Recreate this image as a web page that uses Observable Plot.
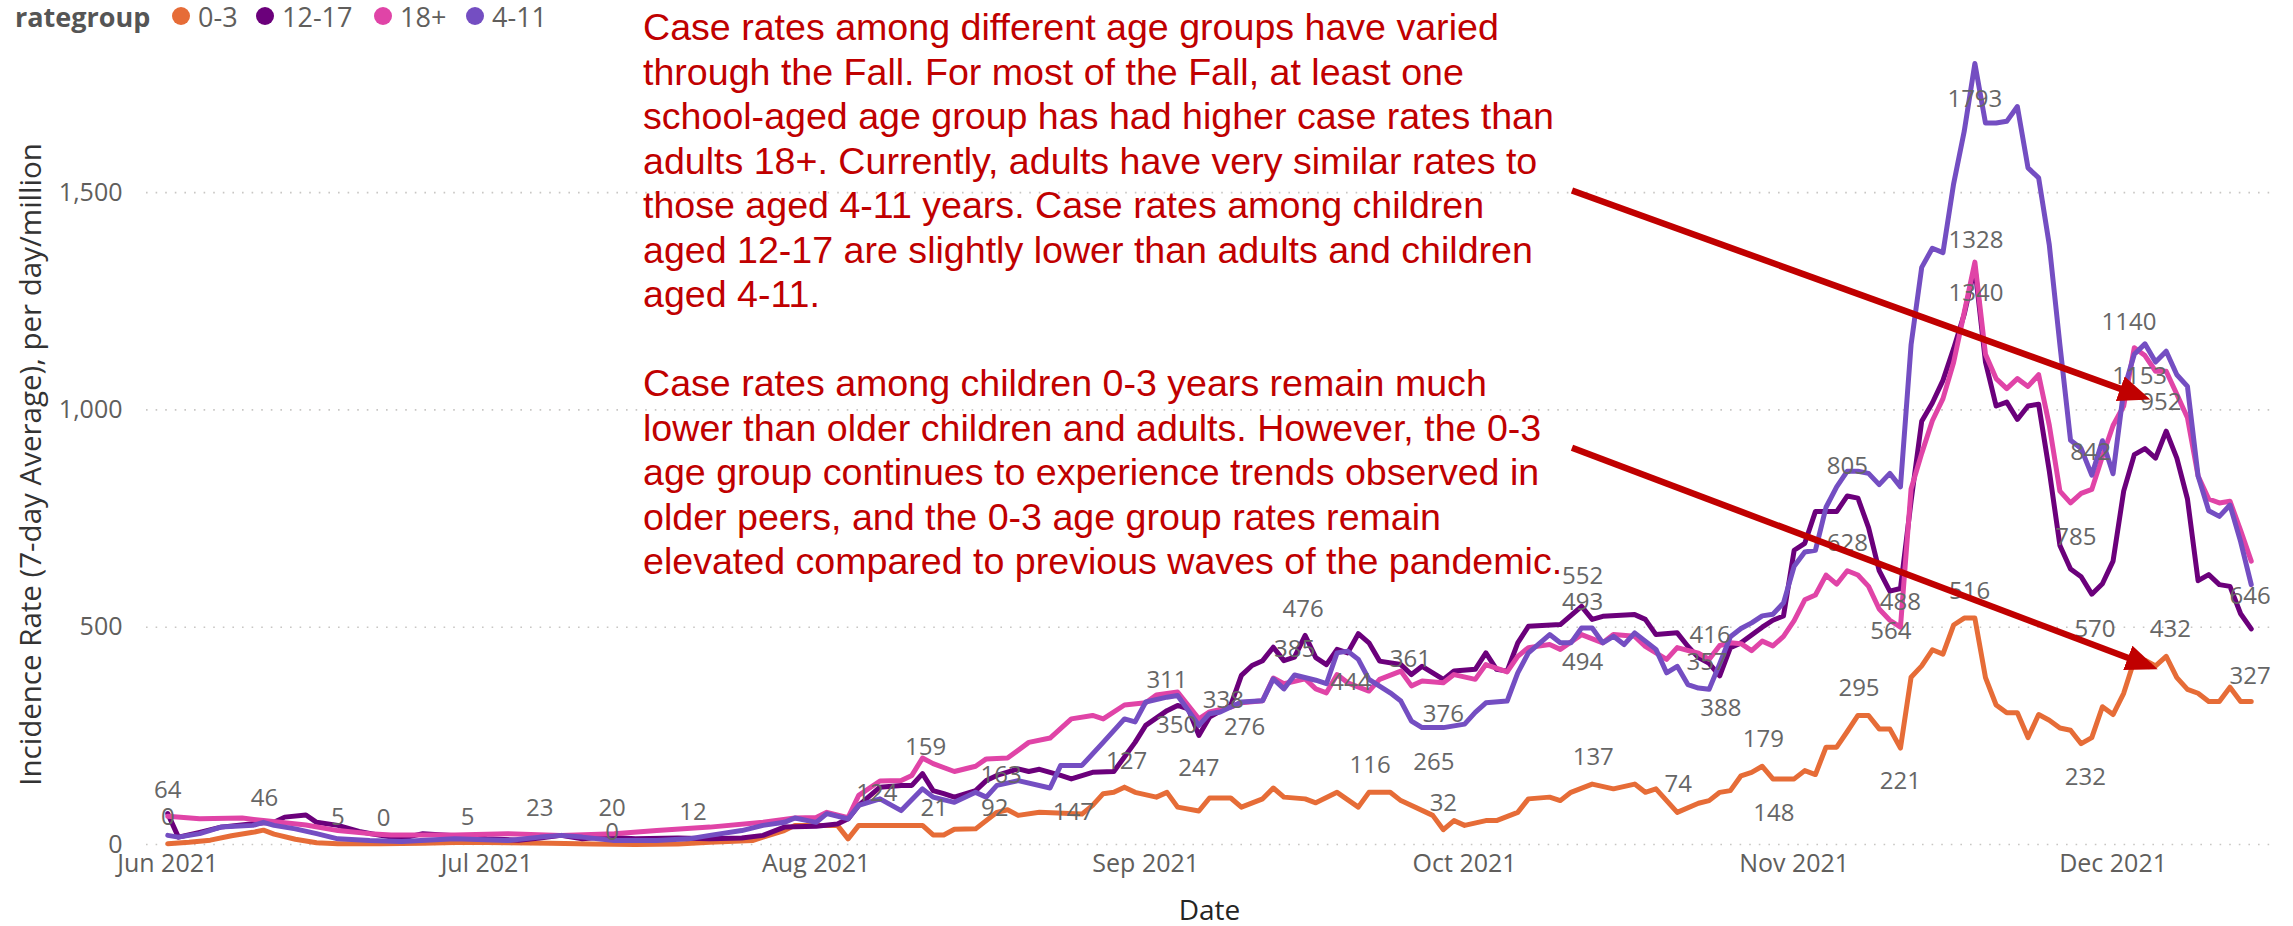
<!DOCTYPE html>
<html>
<head>
<meta charset="utf-8">
<script src="https://cdn.jsdelivr.net/npm/d3@7"></script>
<script src="https://cdn.jsdelivr.net/npm/@observablehq/plot@0.6"></script>
<style>
  html, body { margin: 0; padding: 0; background: #fff; }
  #wrap { position: relative; width: 2293px; height: 926px; overflow: hidden; font-family: "Segoe UI", "Open Sans", sans-serif; }
  #chart { position: absolute; left: 0; top: 0; }
  .lg { position: absolute; top: 16px; transform: translateY(-50%); white-space: nowrap; font-size: 27px; color: #605E5C; line-height: 1; }
  .lg.title { font-weight: 700; color: #555; font-size: 27px; }
  .dot { position: absolute; top: 16px; width: 18px; height: 18px; border-radius: 50%; transform: translate(-50%, -50%); }
  #note { position: absolute; left: 643px; top: 5px; font-family: "Liberation Sans", Arial, sans-serif; font-size: 37.6px; line-height: 44.5px; color: #C00000; white-space: nowrap; }
  #note div { height: 44.5px; }
</style>
</head>
<body>
<div id="wrap">
  <div id="chart"></div>
  <div id="legend"></div>
  <div id="note"></div>
</div>
<script>
// ---------- data ----------
const groups = ["0-3", "12-17", "18+", "4-11"];
const groupColors = ["#E66C37", "#6B007B", "#E044A7", "#744EC2"];

// [days after 1 Jun 2021, incidence rate per day per million]
const rate0to3 = [[0,2],[2,5],[4,10],[6,20],[8,28],[9,33],[10,24],[12,12],[14,4],[16,2],[20,2],[24,3],[28,5],[32,4],[36,3],[40,1],[44,0],[48,1],[51,5],[55,9],[56,17],[58,32],[59,44],[63,44],[64,13],[65,44],[71,44],[72,22],[73,22],[74,35],[76,36],[78,74],[79,80],[80,67],[82,74],[86,70],[87,90],[88,117],[89,120],[90,132],[91,120],[93,109],[94,120],[95,86],[97,77],[98,107],[100,107],[101,86],[103,105],[104,130],[105,109],[107,105],[108,96],[110,120],[112,86],[113,120],[115,120],[116,101],[119,67],[120,34],[121,55],[122,44],[124,55],[125,55],[127,74],[128,105],[130,109],[131,101],[132,120],[134,139],[136,128],[138,139],[139,120],[140,128],[142,74],[144,95],[145,101],[146,120],[147,124],[148,158],[149,166],[150,180],[151,151],[153,151],[154,170],[155,161],[156,224],[157,224],[158,260],[159,297],[160,297],[161,266],[162,266],[163,222],[164,385],[165,411],[166,448],[167,438],[168,505],[169,521],[170,521],[171,384],[172,321],[173,303],[174,303],[175,246],[176,299],[177,286],[178,268],[179,263],[180,232],[181,246],[182,317],[183,299],[184,348],[185,424],[186,424],[187,411],[188,433],[189,384],[190,357],[191,348],[192,329],[193,329],[194,362],[195,329],[196,329]];
const rate12to17 = [[0,71],[1,17],[3,28],[5,40],[8,48],[10,51],[11,63],[13,68],[14,51],[16,44],[18,30],[20,21],[22,14],[24,25],[27,20],[30,13],[33,10],[35,15],[37,21],[39,13],[41,17],[44,13],[48,15],[51,13],[54,15],[56,21],[58,40],[61,42],[63,47],[64,59],[65,90],[67,132],[69,136],[70,136],[71,163],[72,124],[73,117],[74,109],[76,124],[77,147],[78,159],[80,174],[81,168],[82,173],[84,159],[85,151],[87,166],[89,168],[91,235],[92,274],[94,308],[95,320],[96,312],[97,251],[98,293],[100,320],[101,389],[102,412],[103,423],[104,454],[105,423],[106,431],[107,481],[108,430],[109,414],[110,449],[111,441],[112,485],[113,464],[114,422],[116,414],[117,391],[118,410],[120,380],[121,399],[123,403],[124,441],[125,403],[126,399],[127,464],[128,502],[131,506],[133,548],[134,518],[135,525],[138,529],[139,518],[140,483],[142,487],[143,456],[144,430],[145,417],[146,388],[147,453],[148,464],[150,500],[151,516],[152,526],[153,677],[154,693],[155,766],[157,766],[158,802],[159,797],[160,729],[161,630],[162,583],[163,589],[164,790],[165,974],[166,1016],[167,1068],[168,1141],[169,1220],[170,1328],[171,1110],[172,1009],[173,1018],[174,978],[175,1009],[176,1013],[177,860],[178,688],[179,634],[180,616],[181,576],[182,600],[183,652],[184,813],[185,897],[186,911],[187,889],[188,951],[189,889],[190,795],[191,607],[192,621],[193,598],[194,594],[195,531],[196,496]];
const rate18plus = [[0,65],[3,59],[7,61],[9,55],[13,45],[16,32],[19,25],[21,22],[27,22],[32,25],[37,21],[42,25],[46,32],[51,40],[56,51],[59,61],[61,62],[62,74],[64,62],[65,113],[67,146],[69,147],[70,159],[71,199],[72,186],[74,168],[76,180],[77,197],[79,199],[81,235],[83,245],[85,289],[87,297],[88,289],[90,321],[92,326],[93,344],[95,351],[97,289],[98,305],[100,316],[101,326],[103,331],[104,383],[105,370],[107,381],[108,358],[109,349],[110,391],[111,372],[113,353],[114,380],[116,399],[117,365],[118,376],[120,372],[121,391],[123,380],[124,414],[126,397],[127,433],[128,453],[130,460],[131,449],[133,483],[135,464],[136,483],[138,479],[139,456],[141,426],[142,453],[144,440],[145,426],[146,458],[147,464],[148,462],[149,446],[150,468],[151,457],[152,479],[153,515],[154,563],[155,574],[156,620],[157,599],[158,630],[159,620],[160,594],[161,542],[162,516],[163,500],[164,818],[165,900],[166,975],[167,1026],[168,1109],[169,1224],[170,1340],[171,1128],[172,1072],[173,1049],[174,1072],[175,1054],[176,1081],[177,965],[178,813],[179,786],[180,808],[181,817],[182,893],[183,964],[184,1009],[185,1143],[186,1125],[187,1089],[188,1089],[189,1036],[190,982],[191,848],[192,795],[193,786],[194,790],[195,723],[196,652]];
const rate4to11 = [[0,21],[1,17],[3,25],[5,40],[8,44],[9,51],[10,44],[12,36],[14,25],[16,13],[19,9],[22,7],[27,13],[32,9],[35,17],[37,21],[39,17],[42,9],[46,9],[49,13],[51,21],[54,32],[56,44],[58,51],[59,61],[61,51],[62,71],[64,59],[65,90],[67,105],[69,78],[71,128],[72,109],[74,97],[76,120],[77,109],[78,136],[80,147],[83,130],[84,182],[86,182],[88,235],[90,289],[91,282],[92,328],[94,339],[95,343],[97,274],[98,301],[99,305],[101,328],[103,331],[104,381],[105,358],[106,390],[108,378],[109,370],[110,441],[111,445],[112,426],[113,380],[115,349],[116,330],[117,284],[118,269],[120,269],[122,277],[123,304],[124,326],[126,330],[127,395],[128,441],[130,483],[131,464],[132,464],[133,498],[134,498],[135,464],[136,479],[137,460],[138,487],[140,449],[141,395],[142,410],[143,368],[144,360],[145,357],[146,416],[147,478],[148,497],[149,510],[150,526],[151,530],[152,556],[153,640],[154,673],[155,677],[156,776],[157,823],[158,859],[159,859],[160,854],[161,828],[162,854],[163,823],[164,1150],[165,1328],[166,1372],[167,1362],[168,1520],[169,1641],[170,1797],[171,1660],[172,1660],[173,1664],[174,1698],[175,1557],[176,1534],[177,1380],[178,1150],[179,930],[180,911],[181,850],[182,929],[183,853],[184,1045],[185,1128],[186,1152],[187,1110],[188,1135],[189,1081],[190,1054],[191,848],[192,768],[193,755],[194,781],[195,697],[196,598]];

// data labels as shown in the chart: [text, days after 1 Jun, value level where it sits]
const dataLabels = [["64",0,124],["0",0,62],["46",9.1,106],["5",16,62],["0",20.3,60],["5",28.2,62],["23",35,83],["20",41.8,83],["0",41.8,28],["12",49.4,74],["124",66.7,117],["159",71.3,223],["21",72.1,83],["163",78.4,159],["92",77.8,83],["147",85.2,74],["127",90.2,191],["311",94,377],["350",94.9,274],["338",99.3,331],["276",101.3,269],["247",97,175],["476",106.8,541],["385",106,449],["444",111.3,373],["116",113.1,182],["361",116.9,426],["376",120,299],["265",119.1,189],["32",120,94],["552",133.1,617],["493",133.1,557],["494",133.1,419],["137",134.1,200],["416",145.1,481],["357",144.8,419],["388",146.1,313],["74",142.1,138],["179",150.1,242],["148",151.1,71],["805",158,870],["628",158,692],["295",159.1,359],["488",163,557],["564",162.1,490],["221",163,145],["516",169.5,582],["1328",170.1,1390],["1340",170.1,1268],["1793",170,1714],["842",180.9,902],["785",179.5,706],["570",181.3,495],["232",180.4,154],["1140",184.5,1201],["1153",185.5,1077],["952",187.5,1017],["432",188.4,495],["646",195.9,571],["327",195.9,387]];

// annotation arrows: [from day, from value, to day, to value]
const arrowsData = [[132.1,1505,185.8,1030],[132.1,913,186.5,410]];

const yTicks = [0, 500, 1000, 1500];
const monthTicks = ["2021-06-01","2021-07-01","2021-08-01","2021-09-01","2021-10-01","2021-11-01","2021-12-01"];
const yTitle = "Incidence Rate (7-day Average), per day/million";
const xTitle = "Date";
const legendTitle = "rategroup";
const noteLines = [
  "Case rates among different age groups have varied",
  "through the Fall. For most of the Fall, at least one",
  "school-aged age group has had higher case rates than",
  "adults 18+. Currently, adults have very similar rates to",
  "those aged 4-11 years. Case rates among children",
  "aged 12-17 are slightly lower than adults and children",
  "aged 4-11.",
  "",
  "Case rates among children 0-3 years remain much",
  "lower than older children and adults. However, the 0-3",
  "age group continues to experience trends observed in",
  "older peers, and the 0-3 age group rates remain",
  "elevated compared to previous waves of the pandemic."
];

// ---------- build ----------
const t0 = Date.UTC(2021, 5, 1);
const toDate = d => new Date(t0 + d * 864e5);
const seriesList = [rate0to3, rate12to17, rate18plus, rate4to11];
const rows = seriesList.flatMap((arr, i) => arr.map(([d, v]) => ({group: groups[i], date: toDate(d), value: v})));
const labelRows = dataLabels.map(([t, d, v]) => ({text: t, date: toDate(d), value: v}));
const arrowRows = arrowsData.map(([a, b, c, e]) => ({x1: toDate(a), y1: b, x2: toDate(c), y2: e}));
const tickDates = monthTicks.map(s => new Date(s + "T00:00:00Z"));

const font = '"Segoe UI", "Open Sans", sans-serif';

const chart = Plot.plot({
  width: 2293,
  height: 926,
  marginLeft: 146,
  marginRight: 21,
  marginTop: 40,
  marginBottom: 82,
  style: {fontFamily: font, fontSize: "25px", color: "#605E5C", background: "transparent", overflow: "visible"},
  x: {type: "utc", domain: [toDate(-2), toDate(198)]},
  y: {domain: [0, 1850]},
  color: {domain: groups, range: groupColors},
  marks: [
    Plot.gridY(yTicks, {stroke: "#C8C6C4", strokeOpacity: 1, strokeWidth: 1.6, strokeDasharray: "1.6,8"}),
    Plot.axisY(yTicks, {tickSize: 0, tickPadding: 24, tickFormat: d3.format(","), label: null, fontSize: 25, fill: "#605E5C"}),
    Plot.axisX(tickDates, {tickSize: 0, tickPadding: 10, tickFormat: d3.utcFormat("%b %Y"), label: null, fontSize: 25, fill: "#605E5C"}),
    Plot.line(rows, {x: "date", y: "value", z: "group", stroke: "group", strokeWidth: 5, strokeLinejoin: "round", strokeLinecap: "round"}),
    Plot.text(labelRows, {x: "date", y: "value", text: "text", fill: "#666", fontSize: 24}),
    Plot.link(arrowRows, {x1: "x1", y1: "y1", x2: "x2", y2: "y2", stroke: "#C00000", strokeWidth: 6.5}),
    Plot.text([xTitle], {frameAnchor: "bottom", dy: 75, fill: "#252423", fontSize: 28}),
    Plot.text([yTitle], {frameAnchor: "left", textAnchor: "middle", rotate: -90, dx: -115, dy: 22, fill: "#333", fontSize: 29.5})
  ]
});

// filled arrowheads for the annotation arrows
const svg = d3.select(chart);
svg.append("defs").append("marker")
  .attr("id", "redhead")
  .attr("viewBox", "0 -13 32 26")
  .attr("markerWidth", 32).attr("markerHeight", 26)
  .attr("markerUnits", "userSpaceOnUse")
  .attr("refX", 24).attr("refY", 0)
  .attr("orient", "auto")
  .append("path").attr("d", "M0,-13L32,0L0,13Z").attr("fill", "#C00000");
svg.selectAll('g[aria-label="link"] path').attr("marker-end", "url(#redhead)");

document.getElementById("chart").appendChild(chart);

// legend
const legend = document.getElementById("legend");
const lgTitle = document.createElement("div");
lgTitle.className = "lg title"; lgTitle.style.left = "15px"; lgTitle.textContent = legendTitle;
legend.appendChild(lgTitle);
const dotX = [181, 265, 383, 475];
groups.forEach((g, i) => {
  const dot = document.createElement("div");
  dot.className = "dot"; dot.style.left = dotX[i] + "px"; dot.style.background = groupColors[i];
  legend.appendChild(dot);
  const lab = document.createElement("div");
  lab.className = "lg"; lab.style.left = (dotX[i] + 17) + "px"; lab.textContent = g;
  legend.appendChild(lab);
});

// annotation text
const note = document.getElementById("note");
noteLines.forEach(l => { const d = document.createElement("div"); d.textContent = l; note.appendChild(d); });
</script>
</body>
</html>
